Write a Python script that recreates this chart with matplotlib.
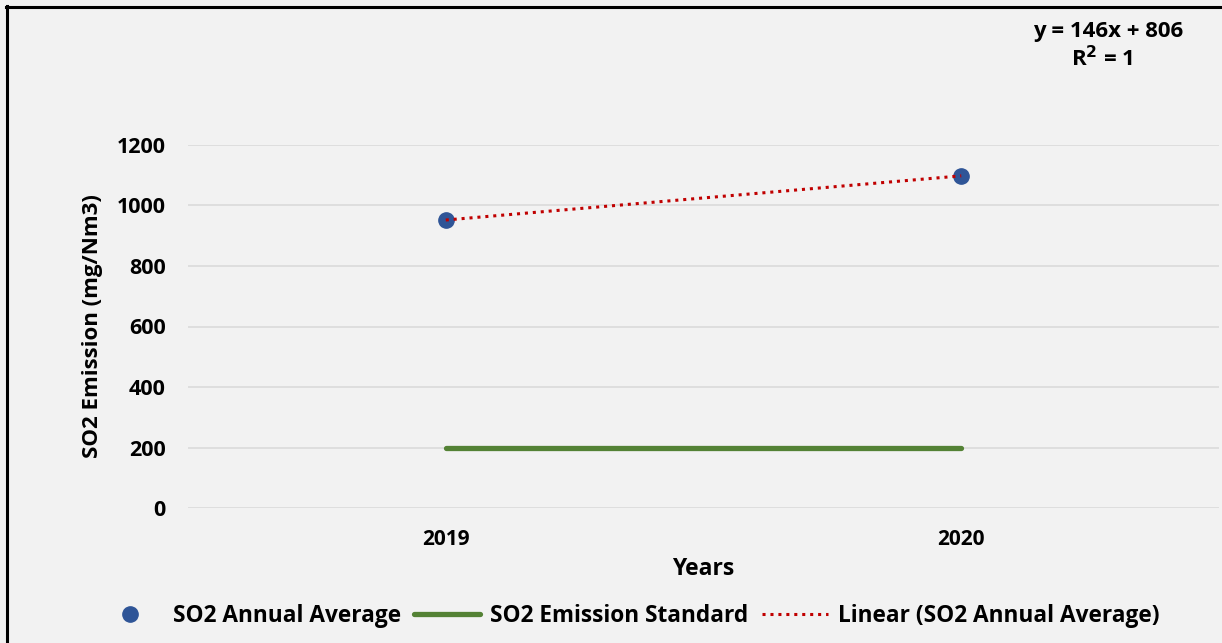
import numpy as np
import matplotlib
matplotlib.use("Agg")
import matplotlib.pyplot as plt
from matplotlib.lines import Line2D

# Data
years = ["2019", "2020"]
so2_annual_avg = [952, 1098]
so2_standard = [200, 200]
y_ticks = [0, 200, 400, 600, 800, 1000, 1200]

BG = "#f2f2f2"
BLUE = "#2f5597"
GREEN = "#548235"
RED = "#c00000"
GRID = "#d9d9d9"
FONT = "Open Sans"

plt.rcParams["font.family"] = [FONT, "DejaVu Sans"]

W, H = 1222, 643
fig = plt.figure(figsize=(W / 100, H / 100), dpi=100, facecolor=BG)
ax = fig.add_axes([188 / W, 1 - 508 / H, (1219 - 188) / W, (508 - 145) / H])
ax.set_facecolor(BG)

x = np.arange(len(years))

# Linear trend fitted on the annual averages (x = 1, 2, ...)
xs = np.arange(1, len(so2_annual_avg) + 1)
slope, intercept = np.polyfit(xs, so2_annual_avg, 1)
trend = slope * xs + intercept

ax.plot(x, so2_standard, color=GREEN, lw=3.8, solid_capstyle="round", zorder=2)
ax.plot(x, so2_annual_avg, ls="none", marker="o", ms=11, color=BLUE, zorder=3)
ax.plot(x, trend, color=RED, lw=2.2, ls=(0, (1, 1.6)), zorder=4)

ax.set_xlim(-0.5, len(years) - 0.5)
ax.set_ylim(0, 1200)
ax.set_yticks(y_ticks)
ax.set_xticks(x)
ax.set_xticklabels(years)
ax.grid(axis="y", color=GRID, lw=1.1)
ax.set_axisbelow(True)
for s in ax.spines.values():
    s.set_visible(False)
ax.tick_params(length=0)
ax.tick_params(axis="y", pad=16, labelsize=15.5, labelcolor="#000000")
ax.tick_params(axis="x", pad=15, labelsize=15, labelcolor="#000000")
for lab in ax.get_xticklabels() + ax.get_yticklabels():
    lab.set_fontweight("bold")

ax.set_xlabel("Years", fontsize=16.5, fontweight="bold", labelpad=5)
ax.set_ylabel("SO2 Emission (mg/Nm3)", fontsize=16, fontweight="bold", labelpad=10)

# Trend line equation
fig.text(1108 / W, 1 - 31 / H, f"y = {slope:.0f}x + {intercept:.0f}", ha="center", va="center",
         fontsize=16, fontweight="bold")
fig.text(1102 / W, 1 - 59 / H, r"R$^{\mathbf{2}}$ = 1", ha="center", va="center",
         fontsize=16, fontweight="bold")

# Legend
handles = [
    Line2D([], [], ls="none", marker="o", ms=11, color=BLUE),
    Line2D([], [], color=GREEN, lw=3.8, solid_capstyle="round"),
    Line2D([], [], color=RED, lw=2.2, ls=(0, (1, 1.6))),
]
labels = ["SO2 Annual Average", "SO2 Emission Standard", "Linear (SO2 Annual Average)"]
fig.legend(handles, labels, loc="center", bbox_to_anchor=(628 / W, 1 - 616 / H), ncol=3,
           frameon=False, prop={"family": FONT, "weight": "bold", "size": 16.3},
           handlelength=2.9, handletextpad=0.45, columnspacing=0.6)

# Frame on the left and top edges
fig.add_artist(Line2D([6.5 / W, 6.5 / W], [0, 1 - 6 / H], transform=fig.transFigure,
                      color="black", lw=2.2))
fig.add_artist(Line2D([5.5 / W, 1], [1 - 6.5 / H, 1 - 6.5 / H], transform=fig.transFigure,
                      color="black", lw=2.2))

fig.savefig("out.png", dpi=100, facecolor=BG)
